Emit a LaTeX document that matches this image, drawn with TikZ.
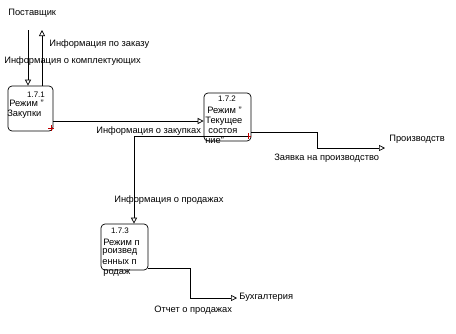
\documentclass[tikz,border=0pt]{standalone}
\usepackage{fontspec}
\setmainfont{Liberation Sans}
\usetikzlibrary{arrows.meta}

\tikzset{
    procbox/.style={draw, rounded corners=4pt, inner sep=0pt},
    flow/.style={-{Triangle[open, length=6pt, width=6pt, line width=0.7pt]}},
    lbl/.style={font=\fontsize{9.3}{10.5}\selectfont, inner sep=0pt, anchor=west},
    numtxt/.style={font=\fontsize{8}{10}\selectfont, inner sep=0pt},
    redcross/.style={red!75!black, line width=0.5pt}
}

\begin{document}
\begin{tikzpicture}[x=1pt, y=-1pt, line width=0.7pt]
    \useasboundingbox (0,0) rectangle (456,333);
    % boxes
    \node[procbox, minimum width=45pt, minimum height=45pt] (p1) at (30.5,108.5) {};
    \node[procbox, minimum width=47pt, minimum height=48pt] (p2) at (227.5,117) {};
    \node[procbox, minimum width=47pt, minimum height=46pt] (p3) at (124.5,247) {};
    \node[numtxt] (n1) at (36,95) {1.7.1};
    \node[numtxt] (n2) at (227,99) {1.7.2};
    \node[numtxt] (n3) at (120,231) {1.7.3};
    \foreach \x/\y/\t [count=\i] in {9/103/Режим ", 7/114/Закупки} {
        \node[lbl] (a\i) at (\x,\y) {\t};
    }
    \foreach \x/\y/\t [count=\i] in {207/110/Режим ", 205/121/Текущее, 208/131/состоя, 205/140/ние"} {
        \node[lbl] (b\i) at (\x,\y) {\t};
    }
    \foreach \x/\y/\t [count=\i] in {103/242/Режим п, 102/252/роизвед, 102/262/енных п, 103/273/родаж} {
        \node[lbl] (c\i) at (\x,\y) {\t};
    }
    \draw[redcross] (48,128) -- (54,128) (51,125) -- (51,131);
    \draw[redcross] (245,136) -- (251,136) (248,133) -- (248,139);

    % external ends
    \node[lbl] (sup) at (8,13) {Поставщик};
    \coordinate (sin) at (28,30);
    \coordinate (sout) at (42,30);
    \coordinate (prod) at (385,148);
    \node[lbl] (prodlbl) at (389,139) {Производств};
    \coordinate (acc) at (237,298);
    \node[lbl] (acclbl) at (239,297) {Бухгалтерия};
    \coordinate (o2) at (248,136);
    \coordinate (j3) at (134,136);

    % flows
    \draw[flow] (sin) -- (sin |- p1.north);
    \draw[flow] (sout |- p1.north) -- (sout);
    \draw[flow] (p1.east |- 0,121) -- (p2.west |- 0,121);
    \draw[flow] (o2) -- (j3) -- (j3 |- p3.north);
    \draw[flow] (p2.east |- 0,132) -- (317,132) -- (317,148) -- (prod);
    \draw[flow] (p3.east |- 0,268) -- (190,268) -- (190,298) -- (acc);

    % flow labels
    \node[lbl] (l1) at (49,44) {Информация по заказу};
    \node[lbl] (l2) at (4,61) {Информация о комплектующих};
    \node[lbl] (l3) at (96,131) {Информация о закупках};
    \node[lbl] (l4) at (274,158) {Заявка на производство};
    \node[lbl] (l5) at (114,200) {Информация о продажах};
    \node[lbl] (l6) at (154,310) {Отчет о продажах};
\end{tikzpicture}
\end{document}
